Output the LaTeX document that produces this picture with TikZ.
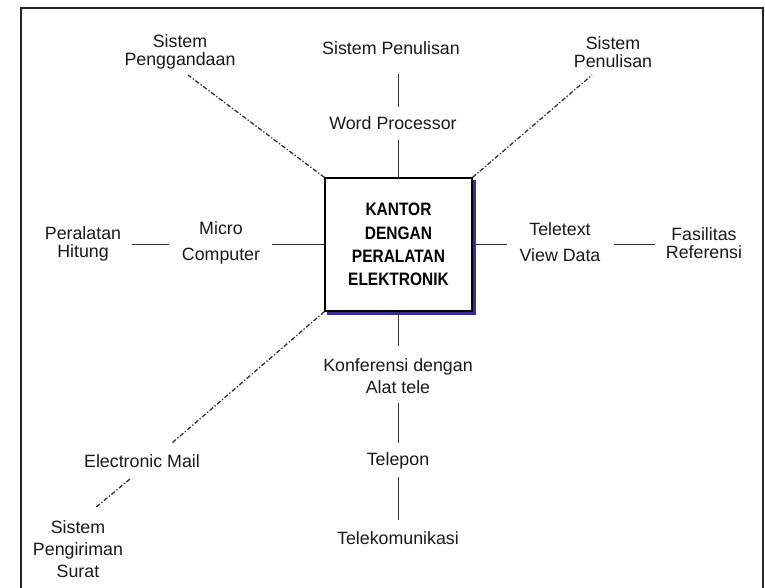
\documentclass[tikz,border=0pt]{standalone}
\usepackage{fontspec}
\setmainfont{Liberation Sans}
\newfontfamily\boxfont{Liberation Sans}[FakeStretch=0.86]
\usetikzlibrary{backgrounds}
\definecolor{shadowblue}{RGB}{48,48,150}
\definecolor{ink}{RGB}{25,25,25}
\definecolor{linec}{RGB}{50,50,50}
\tikzset{
  lbl/.style={inner sep=0pt, align=center, text=ink, font=\fontsize{17.8}{17.5}\selectfont},
  lblwide/.style={lbl, font=\fontsize{17.8}{21.7}\selectfont},
  lblvwide/.style={lbl, font=\fontsize{17.8}{25.5}\selectfont},
  conn/.style={draw=linec, line width=1pt},
  dashconn/.style={draw=linec, line width=1.3pt, dash pattern=on 4.5pt off 2pt on 1.3pt off 2pt},
  mainbox/.style={draw=black, line width=1.2pt, fill=white, minimum width=147pt, minimum height=133pt, inner sep=0pt, align=center, font=\boxfont\bfseries\fontsize{18}{23.3}\selectfont}
}
\begin{document}
\begin{tikzpicture}[x=1pt,y=-1pt]
\useasboundingbox (0,0) rectangle (765,587);
% frame
\draw[black!85, line width=1.3pt] (21,590) -- (21,8) -- (763,8) -- (763,590);

% central box
\node[mainbox] (box) at (398.5,244.5) {KANTOR\\DENGAN\\PERALATAN\\ELEKTRONIK};
\begin{scope}[on background layer]
  \fill[shadowblue] ([shift={(3,3)}]box.north west) rectangle ([shift={(3,3)}]box.south east);
\end{scope}

% labels
\node[lbl] (spg) at (180,52) {Sistem\\Penggandaan};
\node[lbl] (spn) at (391,48) {Sistem Penulisan};
\node[lbl] (spr) at (613,52) {Sistem\\Penulisan};
\node[lbl] (wp)  at (393,123) {Word Processor};
\node[lblvwide] (mc) at (221,243) {Micro\\Computer};
\node[lbl] (ph) at (83,244) {Peralatan\\Hitung};
\node[lblvwide] (tv) at (560,242) {Teletext\\View Data};
\node[lbl] (fr) at (704,243) {Fasilitas\\Referensi};
\node[lblwide] (kd) at (398,376) {Konferensi dengan\\Alat tele};
\node[lbl] (tp) at (398,461) {Telepon};
\node[lbl] (tk) at (398,538) {Telekomunikasi};
\node[lbl] (em) at (142,461) {Electronic Mail};
\node[lblwide] (sps) at (78,549) {Sistem\\Pengiriman\\Surat};

% free ends of dash-dot connectors
\coordinate (spgend) at (188,75);
\coordinate (sprend) at (592,75);
\coordinate (emtop) at (172,443);
\coordinate (embot) at (130,479);
\coordinate (spstop) at (95,508);

% solid connectors
\draw[conn, shorten <=26pt, shorten >=16pt] (spn.center -| box.north) -- (wp.center -| box.north);
\draw[conn, shorten >=17pt] (box.north) -- (wp.center -| box.north);
\draw[conn, shorten >=53pt] (box.east) -- (tv.center |- box.east);
\draw[conn, shorten <=54pt, shorten >=49pt] (tv.center |- box.east) -- (fr.center |- box.east);
\draw[conn, shorten >=51pt] (box.west) -- (mc.center |- box.west);
\draw[conn, shorten <=52pt, shorten >=49pt] (mc.center |- box.west) -- (ph.center |- box.west);
\draw[conn, shorten >=30pt] (box.south) -- (kd.center -| box.south);
\draw[conn, shorten <=27pt, shorten >=18pt] (kd.center -| box.south) -- (tp.center -| box.south);
\draw[conn, shorten <=16pt, shorten >=18pt] (tp.center -| box.south) -- (tk.center -| box.south);

% dash-dot connectors
\draw[dashconn] (box.north west) -- (spgend);
\draw[dashconn] (box.north east) -- (sprend);
\draw[dashconn] (box.south west) -- (emtop);
\draw[dashconn] (embot) -- (spstop);
\end{tikzpicture}
\end{document}
